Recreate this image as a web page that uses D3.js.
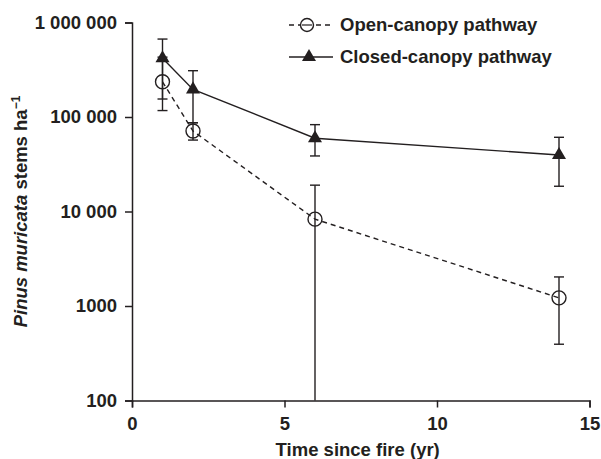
<!DOCTYPE html>
<html>
<head>
<meta charset="utf-8">
<script src="https://cdn.jsdelivr.net/npm/d3@7"></script>
<style>
  body { margin: 0; background: #fff; }
  text { font-family: "Liberation Sans", Arial, sans-serif; font-weight: bold; fill: #231f20; }
</style>
</head>
<body>
<svg id="chart"></svg>
<script>
// values
var years = [1, 2, 6, 14];
var openMean = [236000, 71000, 8300, 1220];
var openLow = [117000, 57000, 1, 394];
var openHigh = [430000, 87000, 19000, 2030];
var closedMean = [418000, 196000, 59600, 39600];
var closedLow = [155000, 87000, 38700, 18500];
var closedHigh = [668000, 309000, 83000, 61000];
var yTicks = [100, 1000, 10000, 100000, 1000000];
var yTickLabels = ["100", "1000", "10 000", "100 000", "1 000 000"];
var xTicks = [0, 5, 10, 15];

var width = 601, height = 459;
var margin = {top: 22.5, right: 11.5, bottom: 58.5, left: 132};
var ink = "#231f20";

var svg = d3.select("#chart")
    .attr("width", width)
    .attr("height", height);

var x = d3.scaleLinear()
    .domain([0, 15])
    .range([margin.left, width - margin.right]);

var y = d3.scaleLog()
    .domain([100, 1000000])
    .range([height - margin.bottom, margin.top])
    .clamp(true);

// axes
var xAxis = svg.append("g")
    .attr("transform", "translate(0," + (height - margin.bottom) + ")")
    .call(d3.axisBottom(x).tickValues(xTicks).tickSize(7).tickPadding(9));

var yAxis = svg.append("g")
    .attr("transform", "translate(" + margin.left + ",0)")
    .call(d3.axisLeft(y).tickValues(yTicks).tickSize(7).tickPadding(8)
        .tickFormat(function(d, i) { return yTickLabels[i]; }));

[xAxis, yAxis].forEach(function(a) {
    a.select(".domain").attr("stroke", ink).attr("stroke-width", 1.5);
    a.selectAll(".tick line").attr("stroke", ink).attr("stroke-width", 1.5);
    a.selectAll(".tick text")
        .attr("fill", ink)
        .style("font-size", "18.5px")
        .style("font-family", "'Liberation Sans', Arial, sans-serif")
        .style("font-weight", "bold");
});

// axis titles
svg.append("text")
    .attr("x", x(7.4))
    .attr("y", 456)
    .attr("text-anchor", "middle")
    .style("font-size", "18.5px")
    .text("Time since fire (yr)");

var yTitle = svg.append("text")
    .attr("transform", "translate(27," + ((margin.top + height - margin.bottom) / 2) + ") rotate(-90)")
    .attr("text-anchor", "middle")
    .style("font-size", "18.5px");
yTitle.append("tspan").style("font-style", "italic").text("Pinus muricata");
yTitle.append("tspan").text(" stems ha");
yTitle.append("tspan").attr("dy", -7).style("font-size", "12px").text("\u22121");

// error bars
function errorBars(mean, low, high, cls) {
    var g = svg.append("g").attr("class", cls)
        .attr("stroke", ink).attr("stroke-width", 1.4);
    years.forEach(function(yr, i) {
        var cx = x(yr);
        g.append("line")
            .attr("x1", cx).attr("x2", cx)
            .attr("y1", y(low[i])).attr("y2", y(high[i]));
        [low[i], high[i]].forEach(function(v) {
            if (v < 100) return; // runs off the axis, no cap
            g.append("line")
                .attr("x1", cx - 5).attr("x2", cx + 5)
                .attr("y1", y(v)).attr("y2", y(v));
        });
    });
}
errorBars(openMean, openLow, openHigh, "open-err");
errorBars(closedMean, closedLow, closedHigh, "closed-err");

var line = d3.line()
    .x(function(d) { return x(d[0]); })
    .y(function(d) { return y(d[1]); });

// open-canopy pathway
svg.append("path")
    .datum(d3.zip(years, openMean))
    .attr("d", line)
    .attr("fill", "none")
    .attr("stroke", ink)
    .attr("stroke-width", 1.4)
    .attr("stroke-dasharray", "5,4");

svg.selectAll(".open-pt")
    .data(d3.zip(years, openMean))
    .join("circle")
    .attr("class", "open-pt")
    .attr("cx", function(d) { return x(d[0]); })
    .attr("cy", function(d) { return y(d[1]); })
    .attr("r", 7)
    .attr("fill", "none")
    .attr("stroke", ink)
    .attr("stroke-width", 1.4);

// closed-canopy pathway
svg.append("path")
    .datum(d3.zip(years, closedMean))
    .attr("d", line)
    .attr("fill", "none")
    .attr("stroke", ink)
    .attr("stroke-width", 1.4);

var tri = d3.symbol().type(d3.symbolTriangle).size(85);

svg.selectAll(".closed-pt")
    .data(d3.zip(years, closedMean))
    .join("path")
    .attr("class", "closed-pt")
    .attr("transform", function(d) { return "translate(" + x(d[0]) + "," + y(d[1]) + ")"; })
    .attr("d", tri)
    .attr("fill", ink);

// legend
var legend = svg.append("g").attr("transform", "translate(289,0)");

legend.append("line")
    .attr("x1", 0).attr("x2", 44).attr("y1", 25).attr("y2", 25)
    .attr("stroke", ink).attr("stroke-width", 1.4).attr("stroke-dasharray", "5,4");
legend.append("circle")
    .attr("cx", 18).attr("cy", 25).attr("r", 6.5)
    .attr("fill", "#fff").attr("stroke", ink).attr("stroke-width", 1.4);
legend.append("line")
    .attr("x1", 13).attr("x2", 23).attr("y1", 25).attr("y2", 25)
    .attr("stroke", ink).attr("stroke-width", 1.2);
legend.append("text")
    .attr("x", 51).attr("y", 25).attr("dy", "0.35em")
    .style("font-size", "18.5px")
    .text("Open-canopy pathway");

legend.append("line")
    .attr("x1", 0).attr("x2", 44).attr("y1", 57).attr("y2", 57)
    .attr("stroke", ink).attr("stroke-width", 1.4);
legend.append("path")
    .attr("transform", "translate(20,57)")
    .attr("d", tri)
    .attr("fill", ink);
legend.append("text")
    .attr("x", 51).attr("y", 57).attr("dy", "0.35em")
    .style("font-size", "18.5px")
    .text("Closed-canopy pathway");
</script>
</body>
</html>
